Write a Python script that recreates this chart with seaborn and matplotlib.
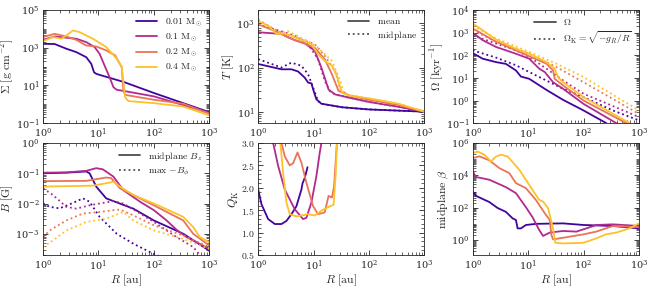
import numpy as np
import seaborn as sns
import matplotlib.pyplot as plt
from matplotlib.ticker import LogLocator, MultipleLocator, NullFormatter

masses = ["0.01", "0.1", "0.2", "0.4"]
mass_labels = [r"$0.01\ \mathrm{M}_\odot$", r"$0.1\ \mathrm{M}_\odot$",
               r"$0.2\ \mathrm{M}_\odot$", r"$0.4\ \mathrm{M}_\odot$"]

# every curve: (log10 R [au], log10 value)
sigma_001 = ([0, 0.21, 0.42, 0.60, 0.78, 0.87, 0.92, 0.96, 1.0, 1.46, 2.0, 3.0],
             [3.21, 3.2, 2.95, 2.77, 2.5, 2.15, 1.7, 1.62, 1.58, 1.18, 0.6, -0.42])
sigma_01 = ([0, 0.21, 0.60, 0.78, 0.93, 1.02, 1.11, 1.20, 1.27, 1.33, 1.51, 2.0, 3.0],
            [3.42, 3.6, 3.48, 3.3, 3.04, 2.68, 2.06, 1.44, 0.91, 0.77, 0.68, 0.42, -0.45])
sigma_02 = ([0, 0.21, 0.42, 0.60, 0.78, 0.96, 1.14, 1.30, 1.42, 1.45, 1.48, 2.0, 2.53, 3.0],
            [3.57, 3.74, 3.6, 3.42, 3.12, 3.07, 2.86, 2.6, 1.97, 0.73, 0.5, 0.24, 0.03, -0.5])
sigma_04 = ([0, 0.18, 0.33, 0.42, 0.54, 0.66, 0.90, 1.14, 1.33, 1.42, 1.48, 1.54, 2.0, 2.53, 3.0],
            [3.35, 3.57, 3.48, 3.65, 3.92, 3.83, 3.48, 3.04, 2.42, 1.97, 0.38, 0.17, 0.06, -0.12, -0.59])

temp_001 = ([0, 0.42, 0.60, 0.72, 0.84, 0.90, 0.96, 1.0, 1.05, 1.14, 1.51, 2.0, 3.0],
            [2.08, 1.96, 1.96, 1.91, 1.77, 1.66, 1.64, 1.47, 1.28, 1.18, 1.1, 1.05, 1.0])
temp_001_mid = ([0, 0.42, 0.60, 0.78, 0.90, 0.99, 1.08, 1.14, 1.51, 2.0, 3.0],
                [2.19, 2.0, 2.11, 2.04, 1.85, 1.55, 1.24, 1.18, 1.1, 1.05, 1.0])
temp_01 = ([0, 0.42, 0.66, 0.84, 1.02, 1.14, 1.27, 1.39, 1.63, 2.0, 2.53, 3.0],
           [2.8, 2.76, 2.62, 2.55, 2.38, 2.0, 1.5, 1.39, 1.32, 1.22, 1.11, 1.0])
temp_01_mid = ([0, 0.42, 0.66, 0.90, 1.08, 1.20, 1.30, 1.39, 1.63, 2.0, 2.53, 3.0],
               [2.97, 2.82, 2.72, 2.53, 2.19, 1.7, 1.45, 1.39, 1.32, 1.22, 1.11, 1.0])
temp_02 = ([0, 0.36, 0.54, 0.78, 1.02, 1.20, 1.33, 1.45, 1.63, 2.0, 2.53, 3.0],
           [2.98, 2.8, 2.68, 2.57, 2.45, 2.19, 1.85, 1.47, 1.37, 1.27, 1.15, 1.0])
temp_02_mid = ([0, 0.36, 0.60, 1.02, 1.20, 1.39, 1.48, 1.63, 2.0, 2.53, 3.0],
               [3.08, 2.82, 2.72, 2.53, 2.27, 1.92, 1.5, 1.37, 1.27, 1.15, 1.0])
temp_04 = ([0, 0.18, 0.33, 0.48, 0.60, 0.78, 0.96, 1.08, 1.20, 1.33, 1.42, 1.51, 1.63, 2.0, 2.53, 3.0],
           [3.05, 2.95, 2.76, 2.77, 2.72, 2.62, 2.53, 2.3, 2.15, 2.04, 1.81, 1.43, 1.37, 1.3, 1.18, 1.0])
temp_04_mid = ([0, 0.33, 0.54, 0.90, 1.08, 1.33, 1.48, 1.54, 1.63, 2.0, 2.53, 3.0],
               [3.1, 2.8, 2.82, 2.6, 2.45, 2.15, 1.7, 1.45, 1.38, 1.3, 1.18, 1.0])

omega_001 = ([0, 0.18, 0.42, 0.60, 0.78, 0.87, 0.96, 1.02, 1.33, 1.63, 2.0, 2.41],
             [2.1, 1.85, 1.7, 1.62, 1.33, 1.06, 1.0, 0.96, 0.47, 0.03, -0.44, -1.0])
omega_01 = ([0, 0.18, 0.42, 0.78, 1.02, 1.20, 1.30, 1.45, 1.63, 2.0, 2.59],
            [3.0, 2.67, 2.37, 2.07, 1.85, 1.41, 1.26, 0.81, 0.52, -0.15, -1.0])
omega_02 = ([0, 0.42, 0.78, 1.02, 1.33, 1.45, 1.48, 1.63, 2.0, 2.77],
            [3.19, 2.6, 2.22, 1.96, 1.63, 1.33, 0.96, 0.67, 0.0, -1.0])
omega_04 = ([0, 0.42, 0.78, 1.02, 1.33, 1.48, 1.54, 1.63, 2.0, 2.83],
            [3.41, 2.7, 2.29, 2.07, 1.7, 1.4, 1.03, 0.81, 0.15, -1.0])
omegak_001 = ([0, 0.42, 0.78, 1.02, 1.63, 2.0, 2.53, 3.0],
              [2.22, 1.9, 1.56, 1.26, 0.52, 0.15, -0.44, -0.88])
omegak_01 = ([0, 0.42, 0.78, 1.02, 1.33, 1.63, 2.0, 3.0],
             [2.89, 2.52, 2.22, 1.93, 1.41, 0.89, 0.3, -0.73])
omegak_02 = ([0, 0.42, 1.02, 1.51, 2.0, 3.0],
             [3.12, 2.6, 2.07, 1.48, 0.81, -0.59])
omegak_04 = ([0, 0.42, 1.02, 1.51, 2.0, 3.0],
             [3.3, 2.75, 2.15, 1.63, 1.04, -0.44])

bz_001 = ([0, 0.42, 0.78, 0.84, 0.96, 1.14, 1.63, 2.0, 2.53, 3.0],
          [-1.0, -0.98, -0.94, -1.0, -1.44, -1.83, -2.17, -2.56, -3.0, -3.56])
bz_01 = ([0, 0.42, 0.78, 0.96, 1.08, 1.27, 1.45, 1.75, 2.0, 2.23, 2.41, 2.59, 3.0],
         [-0.98, -0.97, -0.92, -0.83, -0.87, -1.11, -1.56, -1.94, -2.22, -2.56, -2.87, -3.11, -3.5])
bz_02 = ([0, 0.78, 1.14, 1.23, 1.39, 1.63, 2.0, 2.35, 2.53, 2.71, 3.0],
         [-1.26, -1.25, -1.14, -1.16, -1.5, -1.72, -2.06, -2.39, -2.56, -3.0, -3.39])
bz_04 = ([0, 0.90, 1.14, 1.27, 1.39, 1.63, 2.0, 2.53, 2.71, 2.83, 3.0],
         [-1.44, -1.41, -1.33, -1.28, -1.44, -1.72, -2.0, -2.44, -2.78, -3.11, -3.28])
bphi_001 = ([0, 0.12, 0.30, 0.54, 0.72, 0.84, 1.02, 1.33, 1.63, 2.0, 2.11],
            [-2.0, -2.11, -2.16, -1.98, -1.83, -1.94, -2.44, -3.0, -3.33, -3.67, -3.75])
bphi_01 = ([0, 0.18, 0.42, 0.60, 0.84, 1.02, 1.27, 1.45, 1.75, 2.0, 2.41, 2.71, 2.83],
           [-1.5, -1.72, -2.11, -2.17, -2.06, -2.0, -1.92, -2.0, -2.33, -2.61, -3.11, -3.44, -3.7])
bphi_02 = ([0, 0.12, 0.42, 0.72, 1.02, 1.27, 1.39, 1.63, 2.0, 2.53, 3.0],
           [-3.11, -2.89, -2.56, -2.33, -2.28, -2.22, -2.2, -2.39, -2.72, -3.06, -3.44])
bphi_04 = ([0, 0.18, 0.42, 0.78, 1.14, 1.45, 1.63, 2.0, 2.53, 3.0],
           [-3.44, -3.22, -2.89, -2.61, -2.5, -2.28, -2.56, -2.89, -3.17, -3.5])

# Q_K is linear in y
qk_001 = ([0, 0.06, 0.18, 0.30, 0.42, 0.51, 0.60, 0.69, 0.78, 0.80, 0.84, 0.89],
          [1.96, 1.63, 1.3, 1.19, 1.19, 1.26, 1.41, 1.59, 1.96, 2.1, 2.22, 2.46])
qk_01 = ([0.27, 0.36, 0.48, 0.66, 0.81, 0.87, 0.96, 1.05, 1.11, 1.14],
         [3.0, 2.49, 1.96, 1.52, 1.3, 1.33, 1.67, 2.26, 2.78, 3.0])
qk_02 = ([0.42, 0.48, 0.57, 0.63, 0.71, 0.78, 0.87, 0.99, 1.08, 1.20, 1.27, 1.33, 1.37, 1.40, 1.42],
         [3.0, 2.7, 2.5, 2.55, 2.79, 2.56, 2.11, 1.59, 1.41, 1.45, 1.82, 1.78, 2.04, 2.63, 3.0])
qk_04 = ([0.40, 0.45, 0.51, 0.57, 0.69, 0.90, 1.02, 1.14, 1.30, 1.36, 1.40, 1.42],
         [3.0, 2.33, 1.67, 1.41, 1.36, 1.41, 1.38, 1.49, 1.59, 1.62, 2.33, 3.0])

beta_001 = ([0, 0.06, 0.30, 0.45, 0.60, 0.72, 0.78, 0.81, 0.87, 0.96, 1.14, 1.63, 2.0, 2.53, 3.0],
            [3.0, 2.73, 2.35, 1.98, 1.74, 1.34, 1.24, 0.72, 0.72, 0.93, 1.0, 1.03, 0.93, 0.87, 0.72])
beta_01 = ([0, 0.06, 0.30, 0.60, 0.78, 0.96, 1.08, 1.20, 1.27, 1.39, 1.63, 1.87, 2.05, 2.23, 2.53, 3.0],
           [4.24, 3.9, 3.73, 3.27, 2.9, 2.03, 1.41, 0.62, 0.25, 0.46, 0.56, 0.52, 0.72, 0.93, 0.97, 0.87])
beta_02 = ([0, 0.12, 0.30, 0.48, 0.66, 0.78, 0.96, 1.14, 1.30, 1.39, 1.42, 1.45, 1.63, 2.0, 2.23, 2.53, 3.0],
           [5.07, 5.18, 4.93, 4.45, 4.14, 3.52, 3.21, 2.48, 1.66, 1.24, 0.31, 0.04, 0.14, 0.35, 0.52, 0.87, 0.79])
beta_04 = ([0, 0.09, 0.21, 0.33, 0.42, 0.51, 0.63, 0.84, 1.08, 1.20, 1.27, 1.36, 1.45, 1.49,
            1.63, 2.0, 2.23, 2.40, 2.59, 2.83, 3.0],
           [5.38, 5.48, 5.28, 4.86, 5.17, 5.28, 5.17, 4.35, 3.1, 2.48, 2.38, 1.97, 0.72, -0.17,
            -0.21, -0.17, 0.1, 0.35, 0.46, 0.72, 1.03])

sns.set_style("ticks")
plt.rcParams.update({
    "font.family": ["DejaVu Serif"],
    "mathtext.fontset": "cm",
    "xtick.direction": "in", "ytick.direction": "in",
    "xtick.top": True, "ytick.right": True,
    "xtick.minor.visible": True, "ytick.minor.visible": True,
    "xtick.labelsize": 7, "ytick.labelsize": 7,
    "axes.labelsize": 8.5, "axes.linewidth": 0.6,
    "xtick.major.size": 3.5, "ytick.major.size": 3.5,
    "xtick.minor.size": 2, "ytick.minor.size": 2,
    "xtick.major.width": 0.6, "ytick.major.width": 0.6,
    "xtick.minor.width": 0.5, "ytick.minor.width": 0.5,
    "xtick.major.pad": 2.5, "ytick.major.pad": 2.5,
})

colors = [plt.cm.plasma(v) for v in (0.1, 0.4, 0.65, 0.87)]
LW = 1.3

fig = plt.figure(figsize=(6.52, 2.89), dpi=100)
lefts = [0.066, 0.396, 0.725]
w = 0.255
axes = [[fig.add_axes([l, 0.574, w, 0.391]) for l in lefts],
        [fig.add_axes([l, 0.118, w, 0.387]) for l in lefts]]


def draw(ax, curve, color, ls="-", log_y=True, label=None):
    x = np.power(10.0, curve[0])
    y = np.power(10.0, curve[1]) if log_y else np.array(curve[1])
    sns.lineplot(x=x, y=y, ax=ax, color=color, linestyle=ls, lw=LW,
                 label=label, sort=False, estimator=None)


def fmt_log_x(ax, show_label):
    ax.set_xscale("log")
    ax.set_xlim(1, 1000)
    ax.xaxis.set_major_locator(LogLocator(base=10, numticks=10))
    ax.xaxis.set_minor_locator(LogLocator(base=10, subs=np.arange(2, 10), numticks=20))
    ax.xaxis.set_minor_formatter(NullFormatter())
    if show_label:
        ax.set_xlabel(r"$R\ [\mathrm{au}]$", labelpad=0)
    else:
        ax.set_xlabel("")


def fmt_log_y(ax, lo, hi, majors):
    ax.set_yscale("log")
    ax.set_ylim(lo, hi)
    ax.set_yticks(majors)
    ax.yaxis.set_minor_locator(LogLocator(base=10, subs=np.arange(1, 10), numticks=20))
    ax.yaxis.set_minor_formatter(NullFormatter())


def small_legend(ax, handles=None, labels=None):
    kw = dict(loc="upper right", frameon=False, fontsize=7, handlelength=2.2,
              labelspacing=0.3, borderaxespad=0.3)
    if handles is None:
        ax.legend(**kw)
    else:
        ax.legend(handles, labels, **kw)


def style_legend(ax, solid, dotted):
    ax.plot([], [], color="0.3", lw=LW, label=solid)
    ax.plot([], [], color="0.3", lw=LW, ls=":", label=dotted)
    h, l = ax.get_legend_handles_labels()
    small_legend(ax, h[-2:], l[-2:])


# Sigma
ax = axes[0][0]
for c, col, lab in zip([sigma_001, sigma_01, sigma_02, sigma_04], colors, mass_labels):
    draw(ax, c, col, label=lab)
fmt_log_x(ax, False)
fmt_log_y(ax, 0.1, 1e5, [1e-1, 1e1, 1e3, 1e5])
ax.set_ylabel(r"$\Sigma\ [\mathrm{g\ cm^{-2}}]$", labelpad=0)
small_legend(ax)

# Temperature
ax = axes[0][1]
for c, cm, col in zip([temp_001, temp_01, temp_02, temp_04],
                      [temp_001_mid, temp_01_mid, temp_02_mid, temp_04_mid], colors):
    draw(ax, c, col)
    draw(ax, cm, col, ls=":")
fmt_log_x(ax, False)
fmt_log_y(ax, 5.5, 2000, [1e1, 1e2, 1e3])
ax.set_ylabel(r"$T\ [\mathrm{K}]$", labelpad=0)
style_legend(ax, r"$\mathrm{mean}$", r"$\mathrm{midplane}$")

# Omega
ax = axes[0][2]
for c, ck, col in zip([omega_001, omega_01, omega_02, omega_04],
                      [omegak_001, omegak_01, omegak_02, omegak_04], colors):
    draw(ax, c, col)
    draw(ax, ck, col, ls=":")
fmt_log_x(ax, False)
fmt_log_y(ax, 0.1, 1e4, [1e-1, 1e0, 1e1, 1e2, 1e3, 1e4])
ax.set_ylabel(r"$\Omega\ [\mathrm{kyr^{-1}}]$", labelpad=0)
style_legend(ax, r"$\Omega$", r"$\Omega_\mathrm{K}=\sqrt{-g_R/R}$")

# B
ax = axes[1][0]
for c, cp, col in zip([bz_001, bz_01, bz_02, bz_04],
                      [bphi_001, bphi_01, bphi_02, bphi_04], colors):
    draw(ax, c, col)
    draw(ax, cp, col, ls=":")
fmt_log_x(ax, True)
fmt_log_y(ax, 2e-4, 1, [1e-3, 1e-2, 1e-1, 1e0])
ax.set_ylabel(r"$B\ [\mathrm{G}]$", labelpad=0)
style_legend(ax, r"$\mathrm{midplane}\ B_z$", r"$\mathrm{max}\ {-B_\phi}$")

# Q_K
ax = axes[1][1]
for c, col in zip([qk_001, qk_01, qk_02, qk_04], colors):
    draw(ax, c, col, log_y=False)
fmt_log_x(ax, True)
ax.set_ylim(0.5, 3.0)
ax.yaxis.set_major_locator(MultipleLocator(0.5))
ax.yaxis.set_minor_locator(MultipleLocator(0.1))
ax.yaxis.set_major_formatter(plt.FuncFormatter(lambda v, p: r"$%.1f$" % v))
ax.set_ylabel(r"$Q_\mathrm{K}$", labelpad=0)

# beta
ax = axes[1][2]
for c, col in zip([beta_001, beta_01, beta_02, beta_04], colors):
    draw(ax, c, col)
fmt_log_x(ax, True)
fmt_log_y(ax, 0.12, 1e6, [1e0, 1e2, 1e4, 1e6])
ax.set_ylabel(r"$\mathrm{midplane}\ \beta$", labelpad=0)

fig.savefig("out.png", dpi=100)
